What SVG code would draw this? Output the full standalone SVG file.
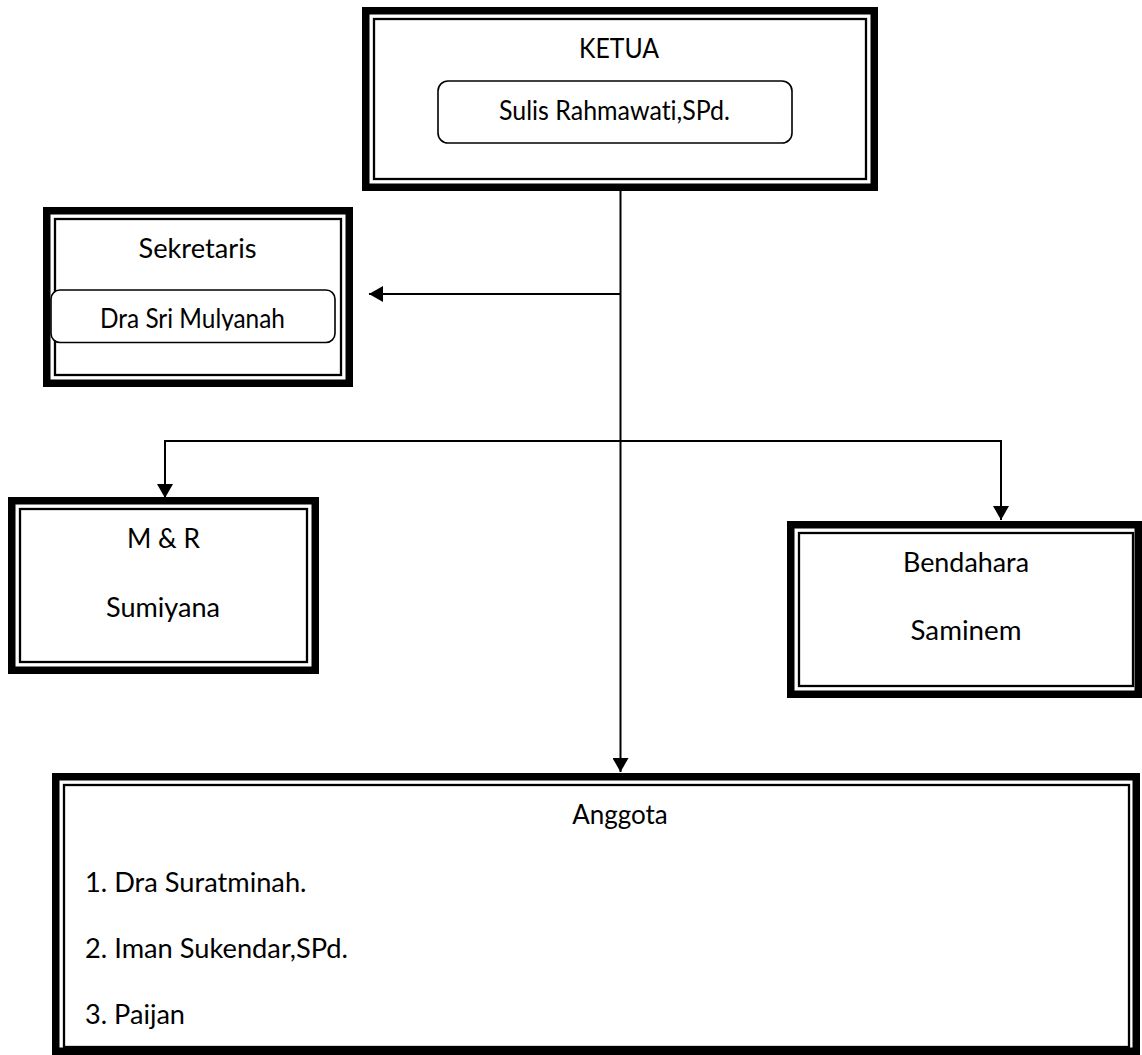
<svg xmlns="http://www.w3.org/2000/svg" width="1142" height="1055" viewBox="0 0 1142 1055">
<style>
.thick{fill:#fff;stroke:#000;stroke-width:7.5}
.thin{fill:none;stroke:#000;stroke-width:2.3}
.rr{fill:#fff;stroke:#000;stroke-width:1.6}
.t{font-family:Lato,"Liberation Sans",sans-serif;font-size:26px;fill:#000;font-variant-ligatures:none}
.c{text-anchor:middle}
.ln{fill:none;stroke:#000;stroke-width:2}
</style>
<defs>
<marker id="ah" viewBox="0 0 14 16" refX="14" refY="8" markerWidth="14" markerHeight="16" markerUnits="userSpaceOnUse" orient="auto">
<path d="M0,0 L14,8 L0,16 Z" fill="#000"/>
</marker>
<clipPath id="clipSek"><rect x="50" y="288" width="290" height="42.5"/></clipPath>
</defs>
<g id="ketua">
<rect class="thick" x="365.75" y="10.75" width="508.5" height="176.5"/>
<rect class="thin" x="374" y="19" width="492" height="160"/>
<text class="t c" x="619" y="57.5" textLength="80" lengthAdjust="spacingAndGlyphs">KETUA</text>
<rect class="rr" x="438" y="81" width="354" height="62" rx="10"/>
<text class="t c" x="614.5" y="120" textLength="231" lengthAdjust="spacingAndGlyphs">Sulis Rahmawati,SPd.</text>
</g>
<g id="sekretaris">
<rect class="thick" x="46.75" y="210.75" width="302.5" height="172.5"/>
<rect class="thin" x="55" y="219" width="286" height="156"/>
<text class="t c" x="197.5" y="258.3" textLength="118" lengthAdjust="spacingAndGlyphs">Sekretaris</text>
<rect class="rr" x="51" y="290" width="284" height="52.5" rx="9"/>
<text class="t c" x="192.5" y="328.3" clip-path="url(#clipSek)" textLength="185" lengthAdjust="spacingAndGlyphs">Dra Sri Mulyanah</text>
</g>
<g id="mr">
<rect class="thick" x="11.75" y="500.75" width="303.5" height="169.5"/>
<rect class="thin" x="20" y="509" width="287" height="153"/>
<text class="t c" x="163.5" y="548.3" textLength="73" lengthAdjust="spacingAndGlyphs">M &amp; R</text>
<text class="t c" x="163" y="616.7" textLength="114" lengthAdjust="spacingAndGlyphs">Sumiyana</text>
</g>
<g id="bendahara">
<rect class="thick" x="790.75" y="524.75" width="347.5" height="169.5"/>
<rect class="thin" x="799" y="533" width="334" height="153"/>
<text class="t c" x="966" y="571.7" textLength="126" lengthAdjust="spacingAndGlyphs">Bendahara</text>
<text class="t c" x="966" y="640" textLength="111" lengthAdjust="spacingAndGlyphs">Saminem</text>
</g>
<g id="anggota">
<rect class="thick" x="55.75" y="776.75" width="1080.5" height="274.5"/>
<rect class="thin" x="64" y="785" width="1065" height="262"/>
<text class="t c" x="620" y="824">Anggota</text>
<text class="t" x="85" y="891.7" textLength="221.5" lengthAdjust="spacingAndGlyphs">1. Dra Suratminah.</text>
<text class="t" x="85" y="958" textLength="263" lengthAdjust="spacingAndGlyphs">2. Iman Sukendar,SPd.</text>
<text class="t" x="85" y="1024" textLength="100" lengthAdjust="spacingAndGlyphs">3. Paijan</text>
</g>
<g id="connectors">
<line class="ln" x1="620.5" y1="191" x2="620.5" y2="772" marker-end="url(#ah)"/>
<line class="ln" x1="621" y1="294" x2="369" y2="294" marker-end="url(#ah)"/>
<line class="ln" x1="164" y1="441" x2="1002" y2="441"/>
<line class="ln" x1="165" y1="440" x2="165" y2="498" marker-end="url(#ah)"/>
<line class="ln" x1="1001" y1="440" x2="1001" y2="520" marker-end="url(#ah)"/>
</g>
</svg>
